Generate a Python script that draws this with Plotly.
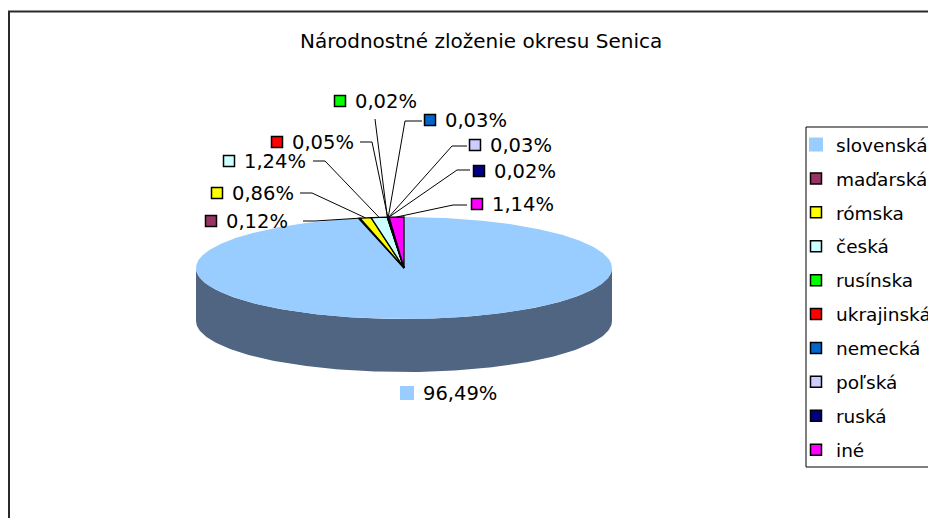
import numpy as np
import plotly.graph_objects as go

# ---------------- data ----------------
categories = ["slovenská", "maďarská", "rómska", "česká", "rusínska",
              "ukrajinská", "nemecká", "poľská", "ruská", "iné"]
values = [96.49, 0.12, 0.86, 1.24, 0.02, 0.05, 0.03, 0.03, 0.02, 1.14]
colors = ["#99CCFF", "#993366", "#FFFF00", "#CCFFFF", "#00FF00",
          "#FF0000", "#0066CC", "#CCCCFF", "#000080", "#FF00FF"]
title_text = "Národnostné zloženie okresu Senica"
value_labels = [f"{v:.2f}".replace(".", ",") + "%" for v in values]

# ---------------- layout / styling parameters (page-pixel space) ----------------
OFF = 8                      # default page body margin
W, H = 936, 518
CX, CY, RX, RY, DEPTH = 404, 268, 208, 51, 53
SIDE_COLOR = "#4F6581"
FONT = "DejaVu Sans"
FS = 19.5
LEG_FS = 18.5

# label key-square centres and leader-line anchor points
key_x = [407, 211, 217, 229, 340, 277, 430, 475, 479, 477]
key_y = [393, 221, 193, 161, 101, 142, 120, 145, 171, 204]
lead_start_x = [None, 303, 300, 313, 375, 360, 422, 467, 470, 467]
lead_start_y = [None, 221, 193, 161, 119, 142, 121, 146, 170, 205]
lead_elbow_x = [None, 315, 312, 325, 375, 372, 405, 452, 457, 453]


def ellipse_pt(theta_deg, dy=0.0):
    t = np.radians(theta_deg)
    return CX + RX * np.sin(t), CY - RY * np.cos(t) + dy


fig = go.Figure()

# side (front wall) of the 3D pie
th_top = np.linspace(90, 270, 181)
xt, yt = ellipse_pt(th_top)
xb, yb = ellipse_pt(th_top[::-1], DEPTH)
fig.add_trace(go.Scatter(
    x=np.concatenate([xt, xb, xt[:1]]), y=np.concatenate([yt, yb, yt[:1]]),
    mode="lines", fill="toself", fillcolor=SIDE_COLOR,
    line=dict(width=0, color=SIDE_COLOR), hoverinfo="skip", showlegend=False))

# top faces of slices (clockwise from 12 o'clock)
total = sum(values)
cum = np.concatenate([[0], np.cumsum(values)]) / total * 360.0
mid_angles = []
for i, v in enumerate(values):
    a0, a1 = cum[i], cum[i + 1]
    mid_angles.append((a0 + a1) / 2)
    n = max(3, int((a1 - a0) * 2) + 2)
    th = np.linspace(a0, a1, n)
    ax_, ay_ = ellipse_pt(th)
    px = np.concatenate([[CX], ax_, [CX]])
    py = np.concatenate([[CY], ay_, [CY]])
    big = (i == 0)
    fig.add_trace(go.Scatter(
        x=px, y=py, mode="lines", fill="toself", fillcolor=colors[i],
        line=dict(width=0 if big else 1.3, color=colors[i] if big else "black"),
        hoverinfo="skip", showlegend=False))

# leader lines
lx, ly = [], []
for i in range(1, len(values)):
    tx, ty = ellipse_pt(mid_angles[i])
    lx += [lead_start_x[i], lead_elbow_x[i], float(tx), None]
    ly += [lead_start_y[i], lead_start_y[i], float(ty), None]
fig.add_trace(go.Scatter(x=lx, y=ly, mode="lines",
                         line=dict(color="black", width=1),
                         hoverinfo="skip", showlegend=False))

# label key squares (also used as legend entries)
for i, cat in enumerate(categories):
    big = (i == 0)
    fig.add_trace(go.Scatter(
        x=[key_x[i]], y=[key_y[i]], mode="markers", name=cat,
        legendgroup=cat,
        marker=dict(symbol="square", size=14 if big else 11, color=colors[i],
                    line=dict(width=0 if big else 1.5, color="black")),
        hoverinfo="skip", showlegend=True))

# value labels
annotations = []
for i, lab in enumerate(value_labels):
    annotations.append(dict(
        x=key_x[i] + (14 if i == 0 else 13), y=key_y[i], text=lab,
        xanchor="left", yanchor="middle", showarrow=False,
        font=dict(family=FONT, size=FS, color="black")))
annotations.append(dict(
    x=481, y=41, text=title_text, xanchor="center", yanchor="middle",
    showarrow=False, font=dict(family=FONT, size=20, color="black")))

shapes = [
    dict(type="rect", xref="x", yref="y", x0=9, y0=11.5, x1=990, y1=570,
         line=dict(color="#2a2a2a", width=2), fillcolor="rgba(0,0,0,0)",
         layer="below"),
    dict(type="rect", xref="x", yref="y", x0=806, y0=127, x1=1000, y1=467,
         line=dict(color="black", width=1), fillcolor="rgba(0,0,0,0)",
         layer="below"),
]

fig.update_layout(
    width=W, height=H,
    margin=dict(l=0, r=0, t=0, b=0, autoexpand=False),
    paper_bgcolor="white", plot_bgcolor="white",
    xaxis=dict(range=[OFF, OFF + W], visible=False, fixedrange=True),
    yaxis=dict(range=[OFF + H, OFF], visible=False, fixedrange=True),
    annotations=annotations, shapes=shapes,
    legend=dict(x=(796 - OFF) / W, y=1 - (126 - OFF) / H,
                xanchor="left", yanchor="top",
                bgcolor="rgba(0,0,0,0)", borderwidth=0,
                traceorder="grouped", tracegroupgap=6.85,
                font=dict(family=FONT, size=LEG_FS, color="black")),
    showlegend=True,
)

fig.write_html("out.html")
